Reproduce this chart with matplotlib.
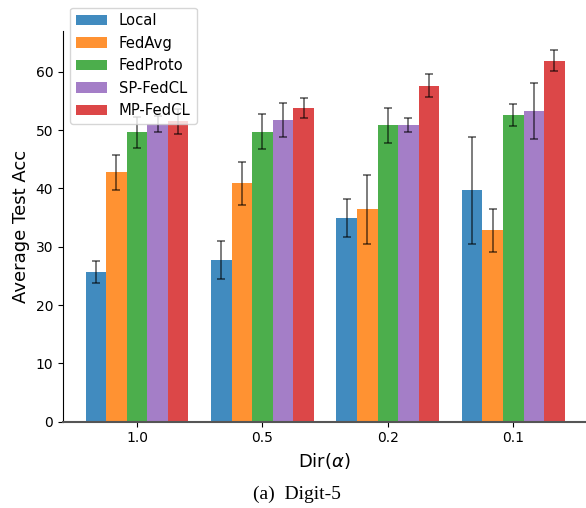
import numpy as np
import matplotlib
matplotlib.use("Agg")
import matplotlib.pyplot as plt

# Dir(alpha) settings on the x axis
alphas = ['1.0', '0.5', '0.2', '0.1']
methods = ['Local', 'FedAvg', 'FedProto', 'SP-FedCL', 'MP-FedCL']
colors = ['tab:blue', 'tab:orange', 'tab:green', 'tab:purple', 'tab:red']

# mean test accuracy per method, one value per alpha
local_acc = [25.6, 27.7, 34.9, 39.7]
fedavg_acc = [42.8, 40.9, 36.4, 32.8]
fedproto_acc = [49.6, 49.7, 50.8, 52.6]
spfedcl_acc = [51.1, 51.8, 50.8, 53.3]
mpfedcl_acc = [51.5, 53.8, 57.6, 61.9]

# std (error bars)
local_std = [1.9, 3.3, 3.2, 9.2]
fedavg_std = [3.0, 3.7, 5.9, 3.7]
fedproto_std = [2.6, 3.0, 3.0, 1.9]
spfedcl_std = [1.4, 2.9, 1.2, 4.8]
mpfedcl_std = [2.2, 1.7, 2.0, 1.8]

means = [local_acc, fedavg_acc, fedproto_acc, spfedcl_acc, mpfedcl_acc]
stds = [local_std, fedavg_std, fedproto_std, spfedcl_std, mpfedcl_std]


def main():
    fig = plt.figure(figsize=(5.86, 5.08), dpi=100)
    ax = fig.add_axes([0.1075, 0.170, 0.8925, 0.769])

    x = np.arange(len(alphas))
    width = 0.164
    for i, (m, s) in enumerate(zip(means, stds)):
        ax.bar(x + (i - 2) * width, m, width, yerr=s, label=methods[i],
               color=colors[i], alpha=0.85, capsize=3,
               error_kw=dict(ecolor='black', elinewidth=1.2, capthick=1.2, alpha=0.6))

    ax.set_xticks(x)
    ax.set_xticklabels(alphas, fontsize=10)
    ax.tick_params(axis='y', labelsize=10)
    ax.set_xlim(-0.59, 3.58)
    ax.set_ylim(0, 67)
    ax.set_yticks(np.arange(0, 61, 10))
    ax.set_xlabel(r'Dir($\alpha$)', fontsize=13)
    ax.set_ylabel('Average Test Acc', fontsize=13)

    ax.spines['top'].set_visible(False)
    ax.spines['right'].set_visible(False)
    ax.spines['bottom'].set_color('#555555')
    ax.spines['bottom'].set_linewidth(1.5)

    ax.legend(loc='upper left', bbox_to_anchor=(0.014, 1.06), borderaxespad=0,
              fontsize=10.6, framealpha=0.8, handlelength=2.1)

    fig.text(0.507, 0.026, '(a)  Digit-5', ha='center', va='center',
             family='Liberation Serif', fontsize=14)

    fig.savefig('out.png', dpi=100)


if __name__ == "__main__":
    main()
